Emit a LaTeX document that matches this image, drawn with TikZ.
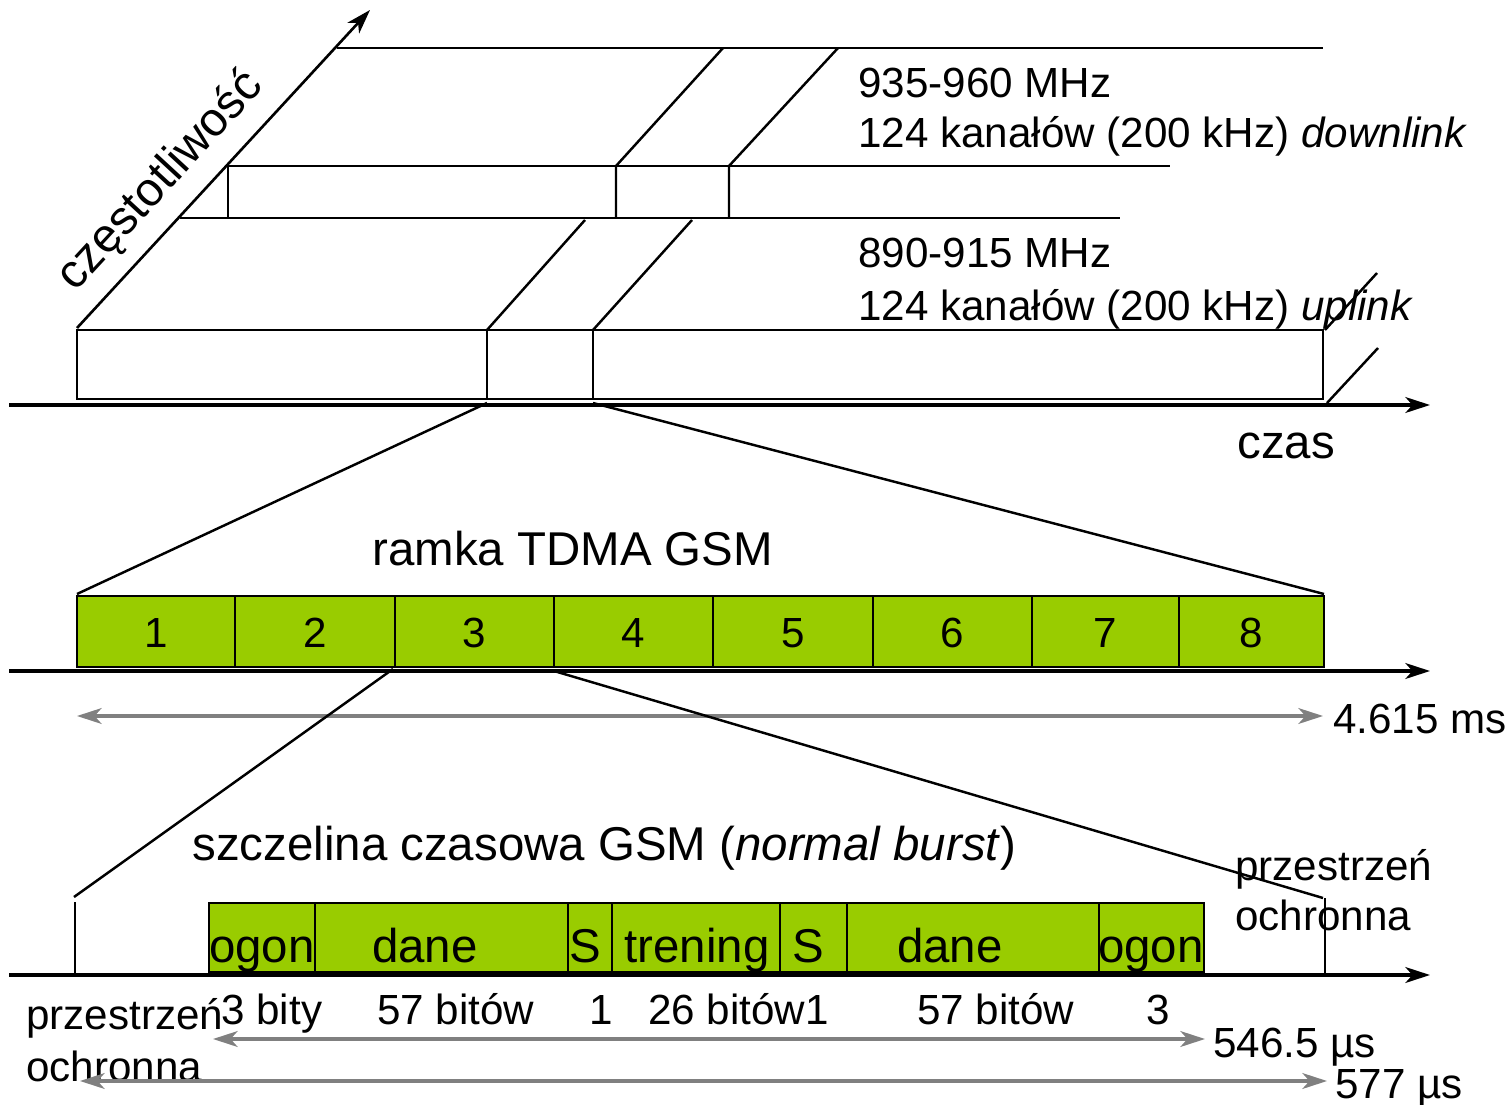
\documentclass[tikz,border=0pt]{standalone}
\usepackage{fontspec}
\setmainfont{Liberation Sans}
\usetikzlibrary{arrows.meta}
\definecolor{gsmgreen}{HTML}{99CC00}
\definecolor{gsmgray}{HTML}{808080}

\begin{document}
\begin{tikzpicture}[x=0.02cm,y=-0.02cm,>={Stealth[length=14pt,width=9pt,inset=4pt]},
    timeaxis/.style={->,line width=2pt},
    band/.style={line width=1.4pt},
    slot/.style={draw,line width=1.5pt,fill=gsmgreen},
    dim/.style={<->,line width=1.8pt,gsmgray},
    lbl/.style={font=\fontsize{24}{29}\selectfont,inner sep=0pt},
    big/.style={font=\fontsize{27}{32}\selectfont,inner sep=0pt}]
  \useasboundingbox (0,0) rectangle (1511,1105);

  % pasma czestotliwosci
  \coordinate (f0) at (77,328);
  \coordinate (f1) at (370,10);
  \draw[->,line width=1.5pt] (f0) -- (f1);
  \node[big,rotate=47.3,anchor=base] (freq) at (170,190) {częstotliwość};
  \draw[band] (337,48) -- (1323,48);
  \draw[band] (228,166) -- (1170,166);
  \draw[band] (180,218) -- (1120,218);
  \draw[band] (228,166) -- (228,218);
  \draw[band] (616,218) -- (616,166) -- (723,48);
  \draw[band] (729,218) -- (729,166) -- (838,48);
  \draw[band] (487,330) -- (585,220);
  \draw[band] (593,330) -- (692,220);
  \draw[band] (1325,330) -- (1377,273);
  \draw[band] (1327,403) -- (1378,348);
  \draw[line width=1.5pt] (77,330) rectangle (1323,399);
  \draw[line width=1.5pt] (487,330) -- (487,399);
  \draw[line width=1.5pt] (593,330) -- (593,399);
  \draw[timeaxis] (9,405) -- (1430,405);

  \node[lbl,anchor=base west] (dl1) at (858,98) {935-960 MHz};
  \node[lbl,anchor=base west] (dl2) at (858,148) {124 kanałów (200 kHz) \textit{downlink}};
  \node[lbl,anchor=base west] (ul1) at (858,267) {890-915 MHz};
  \node[lbl,anchor=base west] (ul2) at (858,320) {124 kanałów (200 kHz) \textit{uplink}};
  \node[big,anchor=base west] (czas) at (1237,458) {czas};

  % ramka TDMA
  \coordinate (s0) at (487,403);
  \coordinate (s1) at (593,403);
  \draw[band] (s0) -- (77,594);
  \draw[band] (s1) -- (1324,594);
  \node[big,anchor=base west] (ramka) at (372,565) {ramka TDMA GSM};
  \foreach \a/\b/\n in {77/235/1,235/395/2,395/554/3,554/713/4,713/873/5,873/1032/6,1032/1179/7,1179/1324/8}
    {\draw[slot] (\a,596) rectangle (\b,667);
     \node[lbl] (f\n) at ({(\a+\b)/2},633) {\n};}
  \draw[timeaxis] (9,671) -- (1430,671);
  \draw[dim] (77,716) -- (1323,716);
  \node[lbl,anchor=base west] (tframe) at (1333,733) {4.615 ms};

  % szczelina czasowa
  \coordinate (t0) at (393,669);
  \coordinate (t1) at (554,671);
  \draw[band] (t0) -- (74,897);
  \draw[band] (t1) -- (1323,898);
  \draw[band] (75,902) -- (75,973);
  \draw[band] (1325,898) -- (1325,973);
  \node[big,anchor=base west] (burst) at (192,860) {szczelina czasowa GSM (\textit{normal burst})};
  \foreach \a/\b/\c/\t in {209/315/262/ogon,315/568/425/dane,568/612/585/S,612/780/697/trening,780/847/808/S,847/1099/950/dane,1099/1204/1151/ogon}
    {\draw[slot] (\a,903) rectangle (\b,972);
     \node[big,anchor=base] (b\a) at (\c,962) {\t};}
  \draw[timeaxis] (9,975) -- (1430,975);

  \node[lbl,anchor=base west] (n1) at (221,1024) {3 bity};
  \node[lbl,anchor=base west] (n2) at (377,1024) {57 bitów};
  \node[lbl,anchor=base] (n3) at (601,1024) {1};
  \node[lbl,anchor=base west] (n4) at (648,1024) {26 bitów1};
  \node[lbl,anchor=base west] (n5) at (917,1024) {57 bitów};
  \node[lbl,anchor=base] (n6) at (1158,1024) {3};

  \node[lbl,anchor=base west] (gl1) at (26,1029) {przestrzeń};
  \node[lbl,anchor=base west] (gl2) at (26,1081) {ochronna};
  \node[lbl,anchor=base west] (gr1) at (1235,880) {przestrzeń};
  \node[lbl,anchor=base west] (gr2) at (1235,930) {ochronna};

  \draw[dim] (213,1039) -- (1205,1039);
  \node[lbl,anchor=base west] (tuse) at (1213,1057) {546.5 µs};
  \draw[dim] (80,1081) -- (1327,1081);
  \node[lbl,anchor=base west] (tslot) at (1335,1098) {577 µs};
\end{tikzpicture}
\end{document}
